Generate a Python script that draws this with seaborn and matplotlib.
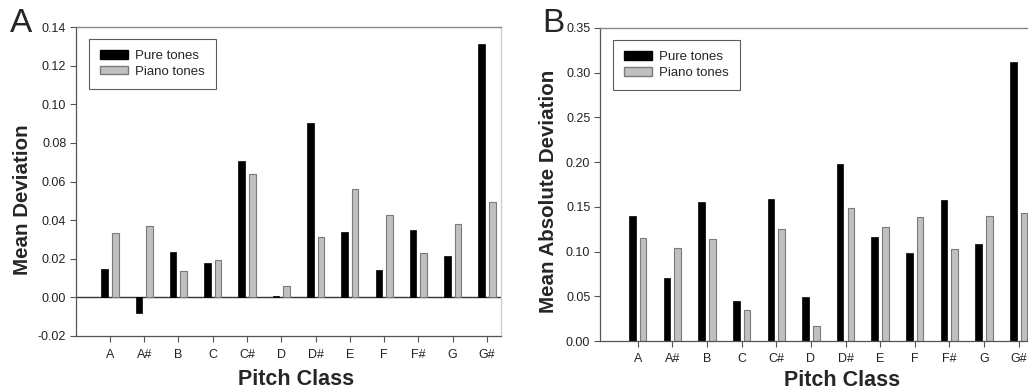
import matplotlib
matplotlib.use("Agg")
import matplotlib.pyplot as plt
import seaborn as sns
import pandas as pd
from matplotlib.patches import Patch

pitch_classes = ["A", "A#", "B", "C", "C#", "D", "D#", "E", "F", "F#", "G", "G#"]
series_names = ["Pure tones", "Piano tones"]

mean_dev_pure = [0.0146, -0.0082, 0.0235, 0.0176, 0.0707, 0.0009, 0.0903, 0.0337, 0.0144, 0.0350, 0.0216, 0.1311]
mean_dev_piano = [0.0332, 0.0370, 0.0136, 0.0193, 0.0638, 0.0061, 0.0311, 0.0562, 0.0428, 0.0228, 0.0381, 0.0492]

mean_abs_pure = [0.1402, 0.0703, 0.1556, 0.0445, 0.1586, 0.0490, 0.1978, 0.1163, 0.0980, 0.1574, 0.1081, 0.3123]
mean_abs_piano = [0.1148, 0.1036, 0.1141, 0.0344, 0.1249, 0.0168, 0.1488, 0.1275, 0.1384, 0.1028, 0.1402, 0.1429]

yticks_a = [-0.02, 0.00, 0.02, 0.04, 0.06, 0.08, 0.10, 0.12, 0.14]
yticks_b = [0.00, 0.05, 0.10, 0.15, 0.20, 0.25, 0.30, 0.35]


def long_df(pure, piano):
    return pd.DataFrame({
        "pitch": pitch_classes * 2,
        "series": [series_names[0]] * len(pure) + [series_names[1]] * len(piano),
        "value": list(pure) + list(piano),
    })


sns.set_theme(style="white")
plt.rcParams["font.family"] = ["Liberation Sans", "DejaVu Sans"]

W, H = 1028, 389
fig = plt.figure(figsize=(W / 100, H / 100), dpi=100)
ax_a = fig.add_axes([76 / W, 1 - 336 / H, (501 - 76) / W, (336 - 27) / H])
ax_b = fig.add_axes([600 / W, 1 - 341 / H, (W - 600) / W, (341 - 28) / H])

palette = {"Pure tones": "#000000", "Piano tones": "#c0c0c0"}
edge = "#7a7a7a"


def draw(ax, pure, piano, yticks, ylim, xlim, fmt):
    df = long_df(pure, piano)
    sns.barplot(data=df, x="pitch", y="value", hue="series", order=pitch_classes,
                hue_order=series_names, palette=palette, width=0.62, gap=0.38,
                ax=ax, legend=False, saturation=1)
    for p in ax.patches:
        if p.get_facecolor()[0] > 0.5:
            p.set_edgecolor(edge)
            p.set_linewidth(0.8)
        else:
            p.set_edgecolor("#000000")
            p.set_linewidth(0.5)
    ax.set_xlim(*xlim)
    ax.set_ylim(*ylim)
    ax.set_yticks(yticks)
    ax.set_yticklabels([fmt.format(t) for t in yticks], fontsize=9, color="#222222")
    ax.set_xticks(range(len(pitch_classes)))
    ax.set_xticklabels(pitch_classes, fontsize=9, color="#222222")
    ax.tick_params(axis="both", which="both", direction="out", length=4, width=0.8,
                   color="#555555", bottom=True, left=True)
    ax.tick_params(axis="x", pad=5)
    ax.tick_params(axis="y", pad=3)
    ax.set_xlabel("")
    ax.set_ylabel("")
    for side in ["left", "bottom"]:
        ax.spines[side].set_color("#555555")
        ax.spines[side].set_linewidth(0.9)
    ax.spines["top"].set_color("#888888")
    ax.spines["top"].set_linewidth(1.0)
    ax.spines["right"].set_color("#d0d0d0")
    ax.spines["right"].set_linewidth(1.0)
    handles = [Patch(facecolor="#000000", edgecolor="#000000", label=series_names[0]),
               Patch(facecolor="#c0c0c0", edgecolor=edge, label=series_names[1])]
    leg = ax.legend(handles=handles, loc="upper left", bbox_to_anchor=(0.031, 0.961),
                    fontsize=9.5, frameon=True, fancybox=False, handlelength=2.1,
                    handleheight=0.65, handletextpad=0.5, borderpad=0.85,
                    labelspacing=0.25, borderaxespad=0)
    leg.get_frame().set_edgecolor("#333333")
    leg.get_frame().set_linewidth(0.8)


draw(ax_a, mean_dev_pure, mean_dev_piano, yticks_a, (-0.02, 0.14), (-0.99, 11.41), "{:.2f}")
ax_a.axhline(0, color="#333333", linewidth=1.0, zorder=0.5)

draw(ax_b, mean_abs_pure, mean_abs_piano, yticks_b, (0.0, 0.35), (-1.09, 11.27), "{:.2f}")
ax_b.spines["right"].set_visible(False)

# axis titles
fig.text(22.5 / W, 1 - 200 / H, "Mean Deviation", rotation=90, ha="center", va="center",
         fontsize=14.8, fontweight="bold")
fig.text(549 / W, 1 - 191.5 / H, "Mean Absolute Deviation", rotation=90, ha="center",
         va="center", fontsize=14.8, fontweight="bold")
fig.text(296 / W, 1 - 385 / H, "Pitch Class", ha="center", va="baseline",
         fontsize=15.5, fontweight="bold")
fig.text(842 / W, 1 - 386 / H, "Pitch Class", ha="center", va="baseline",
         fontsize=15.5, fontweight="bold")

# panel letters
fig.text(21.5 / W, 1 - 23.5 / H, "A", fontsize=24, ha="center", va="center")
fig.text(553 / W, 1 - 23 / H, "B", fontsize=24, ha="center", va="center")

fig.savefig("out.png", dpi=100, facecolor="white")
